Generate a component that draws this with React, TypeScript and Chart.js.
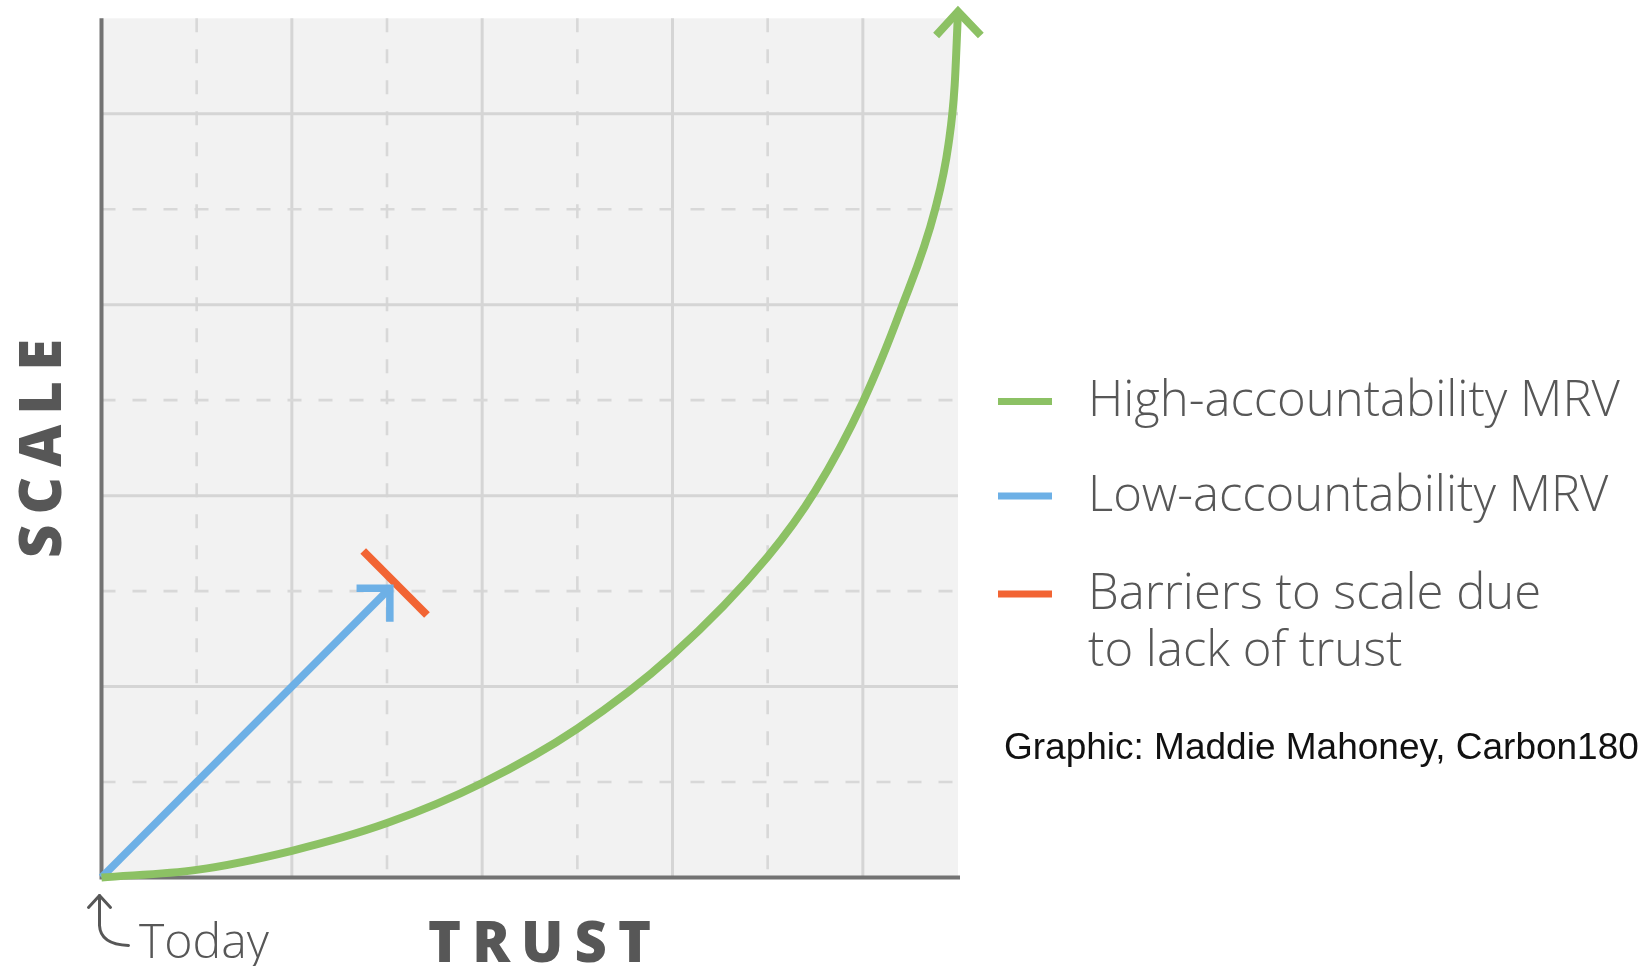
import React, { useEffect, useRef } from "react";
import { Chart, registerables } from "chart.js";

Chart.register(...registerables);

const GREEN = "#8cc164";
const BLUE = "#6db0e6";
const ORANGE = "#f26433";
const TEXT = "#575757";

// High-accountability MRV curve (trust, scale)
const highX = [0, 1, 2, 3, 4, 5, 6, 7, 7.5, 8, 8.4, 8.76, 8.9, 8.965, 9.0];
const highY = [0, 0.08, 0.28, 0.57, 0.99, 1.56, 2.33, 3.36, 4.05, 4.98, 5.95, 7.0, 7.68, 8.3, 9.07];
// arrow head, listed right-to-left
const highArrowX = [9.24, 9.0, 8.77];
const highArrowY = [8.82, 9.07, 8.82];

// Low-accountability MRV
const lowX = [0, 3.03];
const lowY = [0, 3.03];
const lowArrowX = [3.03, 3.03, 2.68];
const lowArrowY = [2.68, 3.03, 3.03];

// Barrier mark
const barrierX = [2.75, 3.42];
const barrierY = [3.42, 2.75];

const gridTicks = [1, 2, 3, 4, 5, 6, 7, 8];
const axisMin = 0;
const axisMax = 9;

const xTitle = "TRUST";
const yTitle = "SCALE";
const originLabel = "Today";
const legendLabels = [
  ["High-accountability MRV"],
  ["Low-accountability MRV"],
  ["Barriers to scale due", "to lack of trust"],
];
const legendColors = [GREEN, BLUE, ORANGE];
const credit = "Graphic: Maddie Mahoney, Carbon180";

const pts = (xs: number[], ys: number[]) => xs.map((x, i) => ({ x, y: ys[i] }));

function charsWidth(ctx: CanvasRenderingContext2D, text: string) {
  let w = 0;
  for (let i = 0; i < text.length; i++) w += ctx.measureText(text[i]).width;
  return w;
}
function drawSpacedToWidth(ctx: CanvasRenderingContext2D, text: string, cx: number, y: number, total: number) {
  const cw = charsWidth(ctx, text);
  const spacing = Math.max(0, (total - cw) / (text.length - 1));
  let x = cx - total / 2;
  for (let i = 0; i < text.length; i++) {
    ctx.fillText(text[i], x, y);
    x += ctx.measureText(text[i]).width + spacing;
  }
}
function fitFont(ctx: CanvasRenderingContext2D, text: string, weight: string, family: string, target: number) {
  ctx.font = `${weight} 40px ${family}`;
  const w = ctx.measureText(text).width;
  const size = (40 * target) / w;
  ctx.font = `${weight} ${size.toFixed(2)}px ${family}`;
}

const gridPlugin = {
  id: "gridPlugin",
  beforeDatasetsDraw(chart: any) {
    const { ctx, chartArea, scales } = chart;
    const { left, right, top, bottom } = chartArea;
    ctx.save();
    ctx.fillStyle = "#f2f2f2";
    ctx.fillRect(left, top, right - left, bottom - top);
    gridTicks.forEach((t) => {
      const solid = t % 2 === 0;
      ctx.strokeStyle = solid ? "#d5d5d5" : "#d8d8d8";
      ctx.lineWidth = solid ? 3 : 2.6;
      ctx.setLineDash(solid ? [] : [14, 17]);
      const px = scales.x.getPixelForValue(t);
      ctx.beginPath();
      ctx.moveTo(px, top);
      ctx.lineTo(px, bottom);
      ctx.stroke();
      const py = scales.y.getPixelForValue(t);
      ctx.beginPath();
      ctx.moveTo(left, py);
      ctx.lineTo(right, py);
      ctx.stroke();
    });
    ctx.setLineDash([]);
    ctx.strokeStyle = "#737373";
    ctx.lineWidth = 4;
    ctx.beginPath();
    ctx.moveTo(left, top);
    ctx.lineTo(left, bottom);
    ctx.lineTo(right + 2, bottom);
    ctx.stroke();
    ctx.restore();
  },
  afterDraw(chart: any) {
    const { ctx, chartArea } = chart;
    const { left, bottom } = chartArea;
    ctx.save();
    // Today hook arrow
    ctx.strokeStyle = TEXT;
    ctx.lineWidth = 3;
    ctx.lineCap = "round";
    ctx.lineJoin = "round";
    ctx.beginPath();
    ctx.moveTo(left - 2, bottom + 18);
    ctx.lineTo(left - 2, bottom + 48);
    ctx.quadraticCurveTo(left - 1, bottom + 67, left + 27, bottom + 68);
    ctx.stroke();
    ctx.beginPath();
    ctx.moveTo(left - 13, bottom + 30);
    ctx.lineTo(left - 2, bottom + 18);
    ctx.lineTo(left + 9, bottom + 30);
    ctx.stroke();

    ctx.fillStyle = TEXT;
    ctx.textBaseline = "alphabetic";
    ctx.textAlign = "left";
    fitFont(ctx, originLabel, "300", "'Open Sans'", 130);
    ctx.fillText(originLabel, 139, 958);

    // TRUST
    ctx.font = "800 56px 'Open Sans'";
    drawSpacedToWidth(ctx, xTitle, 539.5, 962, 223);

    // SCALE
    ctx.save();
    ctx.translate(61, 448.5);
    ctx.rotate(-Math.PI / 2);
    ctx.font = "800 58px 'Open Sans'";
    drawSpacedToWidth(ctx, yTitle, 0, 0, 219);
    ctx.restore();

    // legend
    const rowY = [401.5, 496, 594];
    fitFont(ctx, legendLabels[0][0], "300", "'Open Sans'", 532);
    ctx.textBaseline = "middle";
    legendLabels.forEach((lines, i) => {
      ctx.fillStyle = legendColors[i];
      ctx.fillRect(998, rowY[i] - 3.5, 54, 7);
      ctx.fillStyle = TEXT;
      lines.forEach((ln, j) => ctx.fillText(ln, 1088, rowY[i] + 1 + j * 57));
    });

    ctx.fillStyle = "#111";
    ctx.textBaseline = "alphabetic";
    ctx.font = "37px 'Liberation Sans', Arial, sans-serif";
    ctx.fillText(credit, 1004, 759);
    ctx.restore();
  },
};

export default function App() {
  const ref = useRef<HTMLCanvasElement | null>(null);
  useEffect(() => {
    if (!ref.current) return;
    const common = { pointRadius: 0, pointHoverRadius: 0, showLine: true, clip: false as any, fill: false };
    const chart = new Chart(ref.current, {
      type: "scatter",
      data: {
        datasets: [
          { ...common, label: "High", data: pts(highX, highY), borderColor: GREEN, borderWidth: 8, cubicInterpolationMode: "monotone", borderCapStyle: "butt" },
          { ...common, label: "HighArrow", data: pts(highArrowX, highArrowY), borderColor: GREEN, borderWidth: 8, borderJoinStyle: "miter" },
          { ...common, label: "Low", data: pts(lowX, lowY), borderColor: BLUE, borderWidth: 7.5 },
          { ...common, label: "LowArrow", data: pts(lowArrowX, lowArrowY), borderColor: BLUE, borderWidth: 7.5, borderJoinStyle: "miter" },
          { ...common, label: "Barrier", data: pts(barrierX, barrierY), borderColor: ORANGE, borderWidth: 8 },
        ] as any,
      },
      options: {
        responsive: false,
        animation: false,
        devicePixelRatio: 1,
        layout: { padding: { left: 101.5, top: 18.3, right: 691, bottom: 88.5 } },
        scales: {
          x: { type: "linear", min: axisMin, max: axisMax, display: false },
          y: { type: "linear", min: axisMin, max: axisMax, display: false },
        },
        plugins: { legend: { display: false }, tooltip: { enabled: false } },
      },
      plugins: [gridPlugin],
    });
    return () => chart.destroy();
  }, []);
  return (
    <div style={{ position: "fixed", left: 0, top: 0, width: 1649, height: 966, background: "#fff" }}>
      <canvas ref={ref} width={1649} height={966} style={{ width: 1649, height: 966, display: "block" }} />
    </div>
  );
}
